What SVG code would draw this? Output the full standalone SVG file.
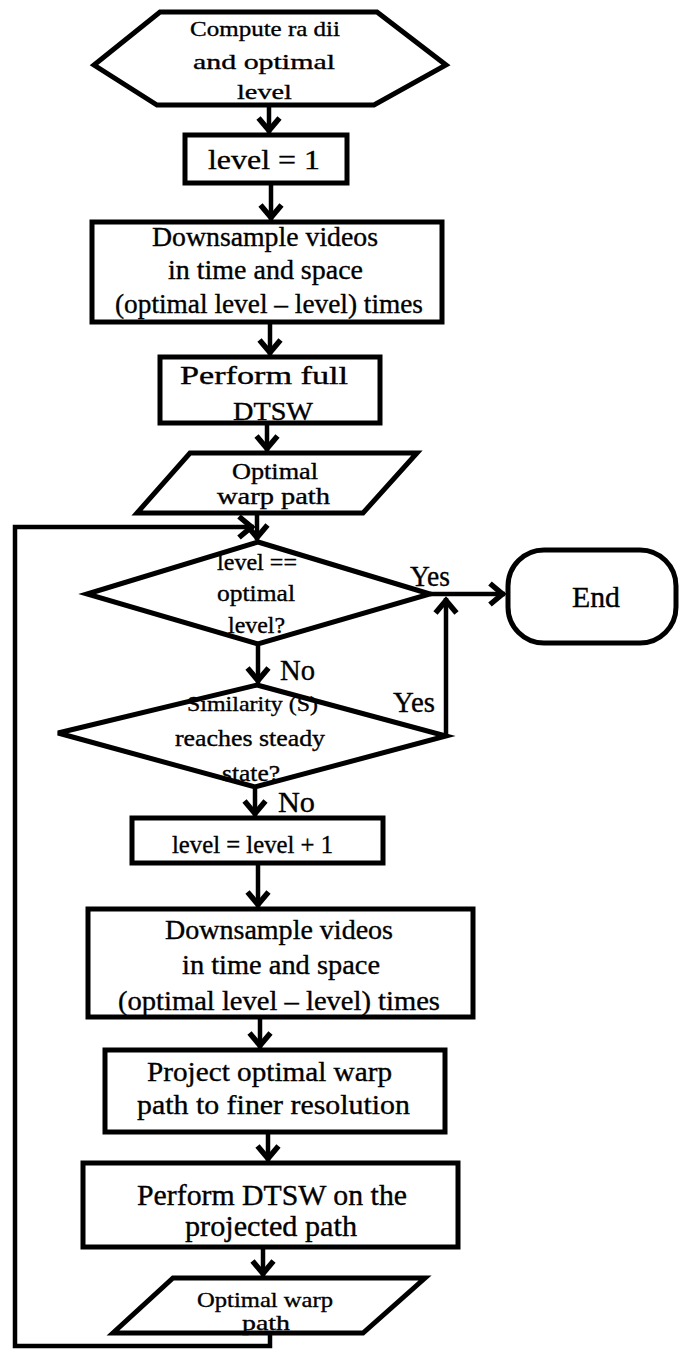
<svg xmlns="http://www.w3.org/2000/svg" width="680" height="1349" viewBox="0 0 680 1349">
<style>
.s{fill:#fff;stroke:#000;stroke-width:5;stroke-linejoin:miter}
.c{fill:none;stroke:#000;stroke-width:4.5}
text{font-family:"Liberation Serif","Times New Roman",serif;fill:#000;stroke:#000;stroke-width:0.35}
</style>
<defs>
<marker id="ah" markerUnits="userSpaceOnUse" markerWidth="34" markerHeight="34" viewBox="-18 -17 34 34" refX="0" refY="0" orient="auto">
<path d="M-15,-10.5 L-2.5,0 L-15,10.5" fill="none" stroke="#000" stroke-width="5.5"/>
</marker>
</defs>
<rect width="680" height="1349" fill="#fff"/>
<g id="connectors">
<line class="c" x1="269" y1="107" x2="269" y2="133" marker-end="url(#ah)"/>
<line class="c" x1="271" y1="185" x2="271" y2="220" marker-end="url(#ah)"/>
<line class="c" x1="270" y1="324" x2="270" y2="355" marker-end="url(#ah)"/>
<line class="c" x1="267" y1="425" x2="267" y2="451" marker-end="url(#ah)"/>
<line class="c" x1="257" y1="515" x2="257" y2="540" marker-end="url(#ah)"/>
<polyline class="c" points="270,1335 270,1346 15,1346 15,527 254,527" marker-end="url(#ah)"/>
<line class="c" x1="430" y1="594" x2="505" y2="594" marker-end="url(#ah)"/>
<line class="c" x1="258" y1="646" x2="258" y2="683" marker-end="url(#ah)"/>
<line class="c" x1="446" y1="737" x2="446" y2="598" marker-end="url(#ah)"/>
<line class="c" x1="255" y1="789" x2="255" y2="816" marker-end="url(#ah)"/>
<line class="c" x1="258" y1="865" x2="258" y2="907" marker-end="url(#ah)"/>
<line class="c" x1="260" y1="1019" x2="260" y2="1048" marker-end="url(#ah)"/>
<line class="c" x1="268" y1="1134" x2="268" y2="1161" marker-end="url(#ah)"/>
<line class="c" x1="263" y1="1249" x2="263" y2="1276" marker-end="url(#ah)"/>
<text x="410" y="586" font-size="29" textLength="40" lengthAdjust="spacingAndGlyphs">Yes</text>
<text x="280" y="680" font-size="29" textLength="35" lengthAdjust="spacingAndGlyphs">No</text>
<text x="393" y="712" font-size="29" textLength="42" lengthAdjust="spacingAndGlyphs">Yes</text>
<text x="278" y="812" font-size="29" textLength="37" lengthAdjust="spacingAndGlyphs">No</text>
</g>
<g id="start">
<polygon class="s" points="160,12 377,12 446,65 374,105 157,105 94,65"/>
<text x="190" y="36" font-size="22" textLength="150" lengthAdjust="spacingAndGlyphs">Compute ra dii</text>
<text x="193" y="69" font-size="22" textLength="142" lengthAdjust="spacingAndGlyphs">and optimal</text>
<text x="237" y="99" font-size="22" textLength="55" lengthAdjust="spacingAndGlyphs">level</text>
</g>
<g id="init">
<rect class="s" x="185" y="135" width="162" height="48"/>
<text x="208" y="169" font-size="28" textLength="112" lengthAdjust="spacingAndGlyphs">level = 1</text>
</g>
<g id="downsample1">
<rect class="s" x="92" y="222" width="350" height="100"/>
<text x="152" y="246" font-size="27" textLength="226" lengthAdjust="spacingAndGlyphs">Downsample videos</text>
<text x="168" y="279" font-size="27" textLength="195" lengthAdjust="spacingAndGlyphs">in time and space</text>
<text x="115" y="313" font-size="27" textLength="308" lengthAdjust="spacingAndGlyphs">(optimal level – level) times</text>
</g>
<g id="fulldtsw">
<rect class="s" x="160" y="357" width="220" height="66"/>
<text x="180" y="384" font-size="25" textLength="168" lengthAdjust="spacingAndGlyphs">Perform full</text>
<text x="233" y="420" font-size="25" textLength="80" lengthAdjust="spacingAndGlyphs">DTSW</text>
</g>
<g id="path1">
<polygon class="s" points="190,453 417,453 363,513 137,513"/>
<text x="232" y="479" font-size="23" textLength="86" lengthAdjust="spacingAndGlyphs">Optimal</text>
<text x="217" y="504" font-size="23" textLength="113" lengthAdjust="spacingAndGlyphs">warp path</text>
</g>
<g id="decision1">
<polygon class="s" points="258,542 430,594 258,644 87,594"/>
<text x="217" y="570" font-size="23" textLength="80" lengthAdjust="spacingAndGlyphs">level ==</text>
<text x="217" y="601" font-size="23" textLength="78" lengthAdjust="spacingAndGlyphs">optimal</text>
<text x="228" y="633" font-size="23" textLength="57" lengthAdjust="spacingAndGlyphs">level?</text>
</g>
<g id="end">
<rect class="s" x="508" y="550" width="168" height="93" rx="36" ry="36"/>
<text x="572" y="607" font-size="29" textLength="48" lengthAdjust="spacingAndGlyphs">End</text>
</g>
<g id="decision2">
<polygon class="s" points="257,685 446,736 255,787 58,733"/>
<text x="187" y="711" font-size="22" textLength="131" lengthAdjust="spacingAndGlyphs">Similarity (S)</text>
<text x="175" y="746" font-size="23" textLength="150" lengthAdjust="spacingAndGlyphs">reaches steady</text>
<text x="222" y="781" font-size="23" textLength="58" lengthAdjust="spacingAndGlyphs">state?</text>
</g>
<g id="increment">
<rect class="s" x="132" y="818" width="251" height="45"/>
<text x="172" y="853" font-size="26" textLength="161" lengthAdjust="spacingAndGlyphs">level = level + 1</text>
</g>
<g id="downsample2">
<rect class="s" x="88" y="909" width="385" height="108"/>
<text x="165" y="939" font-size="27" textLength="228" lengthAdjust="spacingAndGlyphs">Downsample videos</text>
<text x="182" y="974" font-size="27" textLength="198" lengthAdjust="spacingAndGlyphs">in time and space</text>
<text x="118" y="1010" font-size="27" textLength="322" lengthAdjust="spacingAndGlyphs">(optimal level – level) times</text>
</g>
<g id="project">
<rect class="s" x="105" y="1050" width="340" height="82"/>
<text x="147" y="1081" font-size="28" textLength="245" lengthAdjust="spacingAndGlyphs">Project optimal  warp</text>
<text x="137" y="1114" font-size="28" textLength="273" lengthAdjust="spacingAndGlyphs">path to finer resolution</text>
</g>
<g id="dtsw">
<rect class="s" x="83" y="1163" width="375" height="84"/>
<text x="137" y="1205" font-size="29" textLength="270" lengthAdjust="spacingAndGlyphs">Perform DTSW  on the</text>
<text x="185" y="1236" font-size="29" textLength="172" lengthAdjust="spacingAndGlyphs">projected path</text>
</g>
<g id="path2">
<polygon class="s" points="173,1278 425,1278 363,1333 113,1333"/>
<text x="197" y="1307" font-size="22" textLength="136" lengthAdjust="spacingAndGlyphs">Optimal warp</text>
<text x="242" y="1330" font-size="22" textLength="48" lengthAdjust="spacingAndGlyphs">path</text>
</g>
</svg>
